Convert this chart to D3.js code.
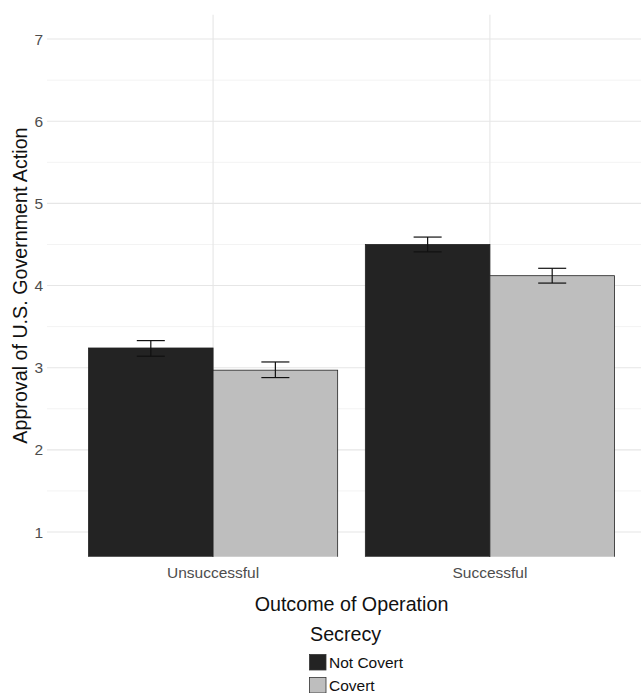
<!DOCTYPE html>
<html>
<head>
<meta charset="utf-8">
<script src="https://cdn.jsdelivr.net/npm/d3@7"></script>
<style>
  body { margin: 0; background: #fff; }
  svg { display: block; font-family: "Liberation Sans", Arial, sans-serif; }
</style>
</head>
<body>
<div id="chart"></div>
<script>
// data
const outcomes = ["Unsuccessful", "Successful"];
const secrecy = ["Not Covert", "Covert"];
const means = [
  [3.24, 2.97],   // Unsuccessful
  [4.50, 4.12]    // Successful
];
const lower = [
  [3.14, 2.88],
  [4.41, 4.03]
];
const upper = [
  [3.33, 3.07],
  [4.59, 4.21]
];
const yTicks = [1, 2, 3, 4, 5, 6, 7];
const fills = ["#232323", "#bebebe"];

const width = 641, height = 693;
const panel = { left: 47, right: 656, top: 14.4, bottom: 556.7 };

const svg = d3.select("#chart").append("svg")
  .attr("width", width)
  .attr("height", height);

// ggplot style discrete x: 0.6 units of expansion on both sides
const x = d3.scalePoint()
  .domain(outcomes)
  .range([panel.left + (panel.right - panel.left) * 0.6 / 2.2,
          panel.right - (panel.right - panel.left) * 0.6 / 2.2]);
const unit = x.step();
const dodge = d3.scaleBand()
  .domain(secrecy)
  .range([-0.45 * unit, 0.45 * unit]);

const y = d3.scaleLinear()
  .domain([0.7, 7.3])
  .range([panel.bottom, panel.top]);

svg.append("clipPath").attr("id", "clip")
  .append("rect")
  .attr("x", panel.left).attr("y", panel.top)
  .attr("width", panel.right - panel.left)
  .attr("height", panel.bottom - panel.top);

const grid = svg.append("g").attr("clip-path", "url(#clip)");

// minor horizontal gridlines
const minor = d3.range(1.5, 7, 1);
grid.selectAll(".minor").data(minor).join("line")
  .attr("x1", panel.left).attr("x2", panel.right)
  .attr("y1", d => y(d)).attr("y2", d => y(d))
  .attr("stroke", "#f3f3f3").attr("stroke-width", 1);

// major gridlines
grid.selectAll(".major").data(yTicks).join("line")
  .attr("x1", panel.left).attr("x2", panel.right)
  .attr("y1", d => y(d)).attr("y2", d => y(d))
  .attr("stroke", "#e6e6e6").attr("stroke-width", 1.1);

grid.selectAll(".vgrid").data(outcomes).join("line")
  .attr("x1", d => x(d)).attr("x2", d => x(d))
  .attr("y1", panel.top).attr("y2", panel.bottom)
  .attr("stroke", "#e6e6e6").attr("stroke-width", 1.1);

// bars
const rows = [];
outcomes.forEach((o, i) => secrecy.forEach((s, j) => {
  rows.push({ o, s, j, m: means[i][j], lo: lower[i][j], hi: upper[i][j] });
}));
const cx = d => x(d.o) + dodge(d.s) + dodge.bandwidth() / 2;

grid.selectAll(".bar").data(rows).join("rect")
  .attr("x", d => x(d.o) + dodge(d.s))
  .attr("width", dodge.bandwidth())
  .attr("y", d => y(d.m))
  .attr("height", d => y(0) - y(d.m))
  .attr("fill", d => fills[d.j])
  .attr("stroke", "#222")
  .attr("stroke-width", 0.8);

// error bars
const capW = 0.225 * dodge.bandwidth();
const eb = svg.selectAll(".err").data(rows).join("g")
  .attr("stroke", "#111").attr("stroke-width", 1.2);
eb.append("line")
  .attr("x1", cx).attr("x2", cx)
  .attr("y1", d => y(d.lo)).attr("y2", d => y(d.hi));
eb.append("line")
  .attr("x1", d => cx(d) - capW / 2).attr("x2", d => cx(d) + capW / 2)
  .attr("y1", d => y(d.hi)).attr("y2", d => y(d.hi));
eb.append("line")
  .attr("x1", d => cx(d) - capW / 2).attr("x2", d => cx(d) + capW / 2)
  .attr("y1", d => y(d.lo)).attr("y2", d => y(d.lo));

// y axis
const yAxis = svg.append("g")
  .attr("transform", `translate(${panel.left},0)`)
  .call(d3.axisLeft(y).tickValues(yTicks).tickFormat(d3.format("d"))
    .tickSize(0).tickPadding(4));
yAxis.select(".domain").remove();
yAxis.selectAll("text")
  .attr("font-size", 15.5).attr("fill", "#4d4d4d")
  .attr("font-family", "Liberation Sans, Arial, sans-serif");

// x axis labels
svg.selectAll(".xlab").data(outcomes).join("text")
  .attr("x", d => x(d)).attr("y", 578)
  .attr("text-anchor", "middle")
  .attr("font-size", 15.5).attr("fill", "#4d4d4d")
  .text(d => d);

// axis titles
svg.append("text")
  .attr("x", (panel.left + panel.right) / 2).attr("y", 611)
  .attr("text-anchor", "middle")
  .attr("font-size", 19.7).attr("fill", "#111")
  .text("Outcome of Operation");

svg.append("text")
  .attr("transform", `translate(27,${(panel.top + panel.bottom) / 2}) rotate(-90)`)
  .attr("text-anchor", "middle")
  .attr("font-size", 19.7).attr("fill", "#111")
  .text("Approval of U.S. Government Action");

// legend
const legend = svg.append("g").attr("transform", "translate(309,0)");
legend.append("text")
  .attr("x", 1).attr("y", 641)
  .attr("font-size", 19.7).attr("fill", "#111")
  .text("Secrecy");
const items = legend.selectAll(".item").data(secrecy).join("g")
  .attr("transform", (d, i) => `translate(0,${654 + i * 23})`);
items.append("rect")
  .attr("x", 0.5).attr("y", 0.5)
  .attr("width", 16.5).attr("height", 15.5)
  .attr("fill", (d, i) => fills[i])
  .attr("stroke", "#333").attr("stroke-width", 0.8);
items.append("text")
  .attr("x", 20).attr("y", 8.5).attr("dy", "0.35em")
  .attr("font-size", 15.5).attr("fill", "#111")
  .text(d => d);
</script>
</body>
</html>
